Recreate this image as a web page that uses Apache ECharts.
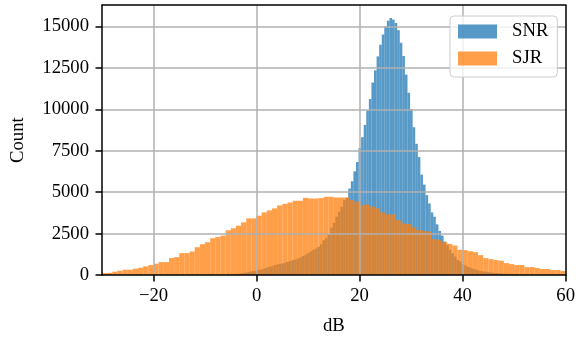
<!DOCTYPE html>
<html><head><meta charset="utf-8">
<script src="https://cdn.jsdelivr.net/npm/echarts@6/dist/echarts.min.js"></script>
<style>html,body{margin:0;padding:0;background:#fff}#c{width:578px;height:341px}</style>
</head><body><div id="c"></div>
<script>
// ---- data ----
const sjrStart = -30, sjrWidth = 1;
const sjrCounts = [110,130,200,260,320,320,380,440,520,600,
  680,780,780,1020,1080,1320,1320,1420,1680,1860,
  1980,2220,2300,2380,2700,2820,2980,3180,3420,3420,
  3580,3780,3900,4020,4200,4300,4380,4480,4480,4660,
  4620,4620,4640,4720,4720,4680,4680,4680,4520,4420,
  4220,4260,4120,4020,3780,3660,3660,3320,3120,3080,
  2880,2720,2660,2620,2160,2120,1980,1880,1780,1520,
  1500,1440,1380,1200,1020,960,900,860,720,660,
  600,600,480,480,420,360,360,300,300,240];
const snrStart = -5.2, snrWidth = 0.5;
const snrCounts = [40,50,60,80,100,120,160,190,220,240,
  290,320,340,400,460,500,540,600,640,680,
  700,740,800,840,900,940,1000,1060,1150,1230,
  1320,1420,1520,1600,1700,1860,2100,2220,2420,2860,
  3150,3520,3820,4120,4520,4660,5220,5660,6260,6820,
  7660,8320,9060,9920,10620,11620,12360,13200,13900,14520,
  15020,15360,15520,15420,15220,14780,14020,13220,12100,11000,
  10020,8920,7920,7120,6060,5460,4820,4320,3780,3520,
  3060,2660,2380,2020,1820,1520,1320,1120,920,820,
  660,580,500,440,380,330,280,240,210,190,
  170,150,130,120,110,90,80,70,60,50,
  40,30,20,20,10];
const seriesNames = ['SNR', 'SJR'];
const xTicks = [-20, 0, 20, 40, 60];
const yTicks = [0, 2500, 5000, 7500, 10000, 12500, 15000];
const xMin = -30, xMax = 60, yMin = 0, yMax = 16290;

// ---- chart ----
const FONT = "'Liberation Serif','Times New Roman',serif";
const FS = 18.7;
function bins(start, width, counts) {
  return counts.map((c, i) => [start + i * width, start + (i + 1) * width, c]);
}
function renderBar(params, api) {
  const p0 = api.coord([api.value(0), api.value(2)]);
  const p1 = api.coord([api.value(1), 0]);
  return { type: 'rect', shape: { x: p0[0], y: p0[1], width: p1[0] - p0[0], height: p1[1] - p0[1] },
           style: { fill: api.visual('color') } };
}
const gridLines = xTicks.filter(v => v > xMin && v < xMax).map(v => ({ xAxis: v }))
  .concat(yTicks.filter(v => v > yMin && v < yMax).map(v => ({ yAxis: v })));
const fmt = v => (v < 0 ? '\u2212' + (-v) : '' + v);
const chart = echarts.init(document.getElementById('c'), null, { renderer: 'canvas' });
chart.setOption({
  animation: false,
  grid: { left: 102, top: 5.2, width: 465, height: 271.5 },
  legend: {
    orient: 'vertical', left: 450, top: 16, icon: 'rect', itemWidth: 39, itemHeight: 14, itemGap: 8,
    padding: [6, 9, 9, 8], backgroundColor: 'rgba(255,255,255,0.8)', borderColor: '#cccccc',
    borderWidth: 1, borderRadius: 4, z: 20,
    textStyle: { fontFamily: FONT, fontSize: FS, color: '#000', padding: [0, 0, 0, 10] },
    data: seriesNames
  },
  xAxis: [{
    type: 'value', min: xMin, max: xMax, interval: 10, position: 'bottom', z: 10,
    axisLine: { show: true, onZero: false, lineStyle: { color: '#000', width: 1.5 } },
    axisTick: { show: true, customValues: xTicks, length: 6.5, lineStyle: { color: '#000', width: 1.5 } },
    axisLabel: { customValues: xTicks, formatter: fmt, margin: 12, fontFamily: FONT, fontSize: FS, color: '#000' },
    splitLine: { show: false },
    name: 'dB', nameLocation: 'middle', nameGap: 42,
    nameTextStyle: { fontFamily: FONT, fontSize: FS, color: '#000' }
  }, {
    type: 'value', min: xMin, max: xMax, position: 'top', z: 10,
    axisLine: { show: true, onZero: false, lineStyle: { color: '#000', width: 1.5 } },
    axisTick: { show: false }, axisLabel: { show: false }, splitLine: { show: false }
  }],
  yAxis: [{
    type: 'value', min: yMin, max: yMax, interval: 2500, position: 'left', z: 10,
    axisLine: { show: true, onZero: false, lineStyle: { color: '#000', width: 1.5 } },
    axisTick: { show: true, customValues: yTicks, length: 6.5, lineStyle: { color: '#000', width: 1.5 } },
    axisLabel: { customValues: yTicks, formatter: fmt, margin: 13, fontFamily: FONT, fontSize: FS, color: '#000' },
    splitLine: { show: false },
    name: 'Count', nameLocation: 'middle', nameGap: 74, nameRotate: 90,
    nameTextStyle: { fontFamily: FONT, fontSize: FS, color: '#000' }
  }, {
    type: 'value', min: yMin, max: yMax, position: 'right', z: 10,
    axisLine: { show: true, onZero: false, lineStyle: { color: '#000', width: 1.5 } },
    axisTick: { show: false }, axisLabel: { show: false }, splitLine: { show: false }
  }],
  series: [{
    name: seriesNames[0], type: 'custom', xAxisIndex: 0, yAxisIndex: 0,
    itemStyle: { color: 'rgba(31,119,180,0.75)' },
    encode: { x: [0, 1], y: 2 }, renderItem: renderBar,
    data: bins(snrStart, snrWidth, snrCounts)
  }, {
    name: seriesNames[1], type: 'custom', xAxisIndex: 0, yAxisIndex: 0,
    itemStyle: { color: 'rgba(255,127,14,0.75)' },
    encode: { x: [0, 1], y: 2 }, renderItem: renderBar,
    data: bins(sjrStart, sjrWidth, sjrCounts),
    markLine: {
      silent: true, symbol: ['none', 'none'], label: { show: false },
      lineStyle: { color: '#b0b0b0', width: 1.5, type: 'solid' }, z: 5,
      data: gridLines
    }
  }]
});
</script></body></html>
